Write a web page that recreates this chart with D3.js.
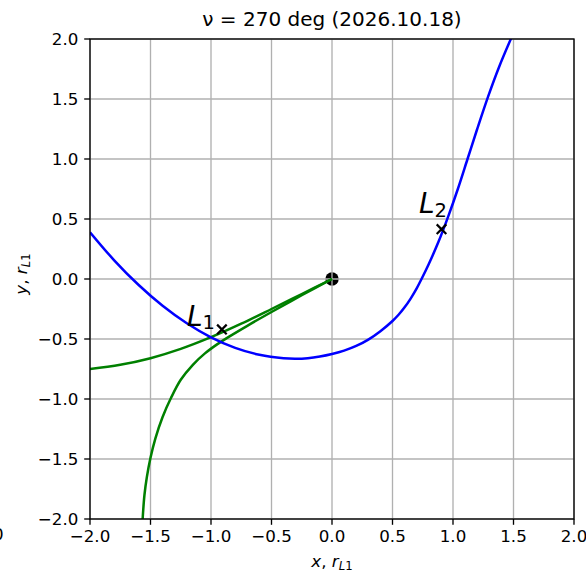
<!DOCTYPE html>
<html>
<head>
<meta charset="utf-8">
<script src="https://cdn.jsdelivr.net/npm/d3@7"></script>
<style>
  html, body { margin: 0; padding: 0; background: #fff; }
  svg { display: block; }
  text { font-family: "DejaVu Sans", sans-serif; fill: #000; }
</style>
</head>
<body>
<svg id="chart" width="586" height="576"></svg>
<script>
// ---- data ----
const titleText = "ν = 270 deg (2026.10.18)";
const tickValues = [-2.0, -1.5, -1.0, -0.5, 0.0, 0.5, 1.0, 1.5, 2.0];

// blue curve (x, y)
const blueX = [-2.0, -1.8, -1.6, -1.4, -1.2, -1.0, -0.8, -0.6, -0.4, -0.3, -0.2, -0.1, 0.0, 0.1, 0.2, 0.3, 0.4, 0.5, 0.55, 0.6, 0.65, 0.7, 0.74, 0.8, 0.88, 0.96, 1.04, 1.12, 1.2, 1.29, 1.38, 1.48];
const blueY = [0.39, 0.156, -0.048, -0.223, -0.369, -0.486, -0.574, -0.632, -0.661, -0.665, -0.66, -0.646, -0.625, -0.597, -0.558, -0.505, -0.435, -0.35, -0.298, -0.236, -0.163, -0.078, 0.0, 0.125, 0.31, 0.52, 0.75, 1.0, 1.25, 1.52, 1.765, 2.005];

// green curves (two branches from the origin)
const greenUpperX = [0.0, -0.25, -0.5, -0.75, -1.0, -1.25, -1.5, -1.75, -2.0];
const greenUpperY = [0.0, -0.125, -0.25, -0.3725, -0.485, -0.5825, -0.66, -0.715, -0.75];
const greenLowerX = [0.0, -0.25, -0.5, -0.7, -0.85, -0.95, -1.05, -1.15, -1.25, -1.33, -1.4, -1.46, -1.5, -1.53, -1.55, -1.565];
const greenLowerY = [0.0, -0.135, -0.275, -0.39, -0.48, -0.545, -0.62, -0.715, -0.84, -0.99, -1.15, -1.33, -1.49, -1.65, -1.8, -2.0];

// Lagrange points
const lagrangeNames = ["L", "L"];
const lagrangeSubs = ["1", "2"];
const lagrangeX = [-0.91, 0.905];
const lagrangeY = [-0.42, 0.415];

// central body
const bodyX = [0.0];
const bodyY = [0.0];

// ---- layout ----
const svg = d3.select("#chart");
const mLeft = 90, mRight = 574, mTop = 39, mBottom = 519;
const x = d3.scaleLinear().domain([-2, 2]).range([mLeft, mRight]);
const y = d3.scaleLinear().domain([-2, 2]).range([mBottom, mTop]);
const fmt = d3.format(".1f");

const defs = svg.append("defs");
defs.append("clipPath").attr("id", "clip")
  .append("rect").attr("x", mLeft).attr("y", mTop)
  .attr("width", mRight - mLeft).attr("height", mBottom - mTop);

// central body (below grid)
svg.append("g").attr("clip-path", "url(#clip)")
  .selectAll("circle").data(bodyX).join("circle")
  .attr("cx", d => x(d)).attr("cy", (d, i) => y(bodyY[i]))
  .attr("r", 6.7).attr("fill", "#000");

// grid
const grid = svg.append("g");
grid.selectAll("line.gx").data(tickValues).join("line")
  .attr("class", "gx")
  .attr("x1", d => x(d)).attr("x2", d => x(d))
  .attr("y1", mTop).attr("y2", mBottom)
  .attr("stroke", "#b0b0b0").attr("stroke-width", 1.33);
grid.selectAll("line.gy").data(tickValues).join("line")
  .attr("class", "gy")
  .attr("y1", d => y(d)).attr("y2", d => y(d))
  .attr("x1", mLeft).attr("x2", mRight)
  .attr("stroke", "#b0b0b0").attr("stroke-width", 1.33);

// curves
const line = d3.line().x(d => x(d[0])).y(d => y(d[1])).curve(d3.curveCatmullRom.alpha(0.5));
const curves = svg.append("g").attr("clip-path", "url(#clip)");
const zip = (a, b) => a.map((v, i) => [v, b[i]]);
curves.append("path").datum(zip(greenUpperX, greenUpperY))
  .attr("d", line).attr("fill", "none").attr("stroke", "#008000").attr("stroke-width", 2.5);
curves.append("path").datum(zip(greenLowerX, greenLowerY))
  .attr("d", line).attr("fill", "none").attr("stroke", "#008000").attr("stroke-width", 2.5);
curves.append("path").datum(zip(blueX, blueY))
  .attr("d", line).attr("fill", "none").attr("stroke", "#0000ff").attr("stroke-width", 2.5);

// lagrange markers
const mk = svg.append("g");
lagrangeX.forEach((lx, i) => {
  const cx = x(lx), cy = y(lagrangeY[i]), s = 4.8;
  mk.append("path")
    .attr("d", `M${cx - s},${cy - s}L${cx + s},${cy + s}M${cx - s},${cy + s}L${cx + s},${cy - s}`)
    .attr("stroke", "#000").attr("stroke-width", 2.2).attr("fill", "none");
});

// lagrange labels
const labelPos = [[187, 326, 329], [419, 213, 217]];
lagrangeNames.forEach((n, i) => {
  const t = svg.append("text")
    .attr("x", labelPos[i][0]).attr("y", labelPos[i][1])
    .style("font-size", "28px");
  t.append("tspan").attr("font-style", "italic").text(n);
  t.append("tspan").attr("dy", labelPos[i][2] - labelPos[i][1]).style("font-size", "19.5px").text(lagrangeSubs[i]);
});

// spines
svg.append("rect").attr("x", mLeft).attr("y", mTop)
  .attr("width", mRight - mLeft).attr("height", mBottom - mTop)
  .attr("fill", "none").attr("stroke", "#000").attr("stroke-width", 1.33);

// ticks
const tk = svg.append("g");
tk.selectAll("line.tx").data(tickValues).join("line")
  .attr("class", "tx")
  .attr("x1", d => x(d)).attr("x2", d => x(d))
  .attr("y1", mBottom).attr("y2", mBottom + 5.8)
  .attr("stroke", "#000").attr("stroke-width", 1.33);
tk.selectAll("line.ty").data(tickValues).join("line")
  .attr("class", "ty")
  .attr("y1", d => y(d)).attr("y2", d => y(d))
  .attr("x1", mLeft - 5.8).attr("x2", mLeft)
  .attr("stroke", "#000").attr("stroke-width", 1.33);
tk.selectAll("text.lx").data(tickValues).join("text")
  .attr("class", "lx")
  .attr("x", d => x(d)).attr("y", 542)
  .attr("text-anchor", "middle").style("font-size", "16.7px")
  .text(d => fmt(d));
tk.selectAll("text.ly").data(tickValues).join("text")
  .attr("class", "ly")
  .attr("x", mLeft - 11.6).attr("y", d => y(d) + 6)
  .attr("text-anchor", "end").style("font-size", "16.7px")
  .text(d => fmt(d));

// title
svg.append("text").attr("x", 332).attr("y", 26)
  .attr("text-anchor", "middle").style("font-size", "20px")
  .text(titleText);

// axis labels
const xl = svg.append("text").attr("x", 332).attr("y", 567)
  .attr("text-anchor", "middle").style("font-size", "16.7px");
xl.append("tspan").attr("font-style", "italic").text("x");
xl.append("tspan").text(", ");
xl.append("tspan").attr("font-style", "italic").text("r");
xl.append("tspan").attr("dy", 3).style("font-size", "11.7px").attr("font-style", "italic").text("L");
xl.append("tspan").style("font-size", "11.7px").text("1");

const yl = svg.append("text")
  .attr("transform", "translate(27,274) rotate(-90)")
  .attr("text-anchor", "middle").style("font-size", "16.7px");
yl.append("tspan").attr("font-style", "italic").text("y");
yl.append("tspan").text(", ");
yl.append("tspan").attr("font-style", "italic").text("r");
yl.append("tspan").attr("dy", 3).style("font-size", "11.7px").attr("font-style", "italic").text("L");
yl.append("tspan").style("font-size", "11.7px").text("1");

// clipped glyph at the left edge, as in the reference
svg.append("text").attr("x", -7).attr("y", 540).style("font-size", "16.7px").text("0");
</script>
</body>
</html>
